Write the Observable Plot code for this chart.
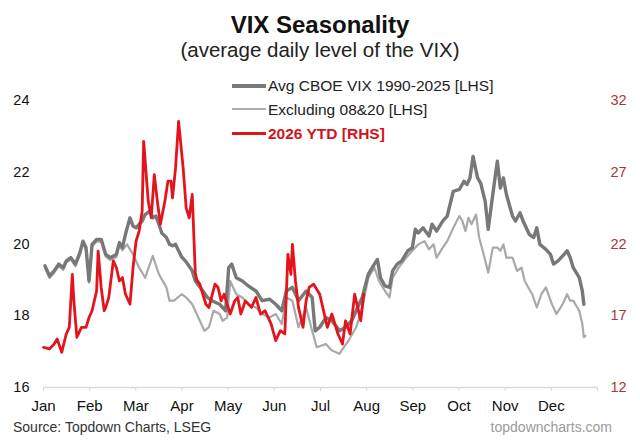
<!DOCTYPE html>
<html>
<head>
<meta charset="utf-8">
<script src="https://cdn.jsdelivr.net/npm/d3@7"></script>
<script src="https://cdn.jsdelivr.net/npm/@observablehq/plot@0.6"></script>
<style>
  html, body { margin: 0; padding: 0; background: #fff; }
  #wrap { position: relative; width: 640px; height: 446px; overflow: hidden; font-family: "Liberation Sans", Arial, sans-serif; background: #fff; }
  .t { position: absolute; white-space: nowrap; line-height: 1; }
  #chart { position: absolute; left: 0; top: 70px; }
  .leg { position: absolute; left: 232px; white-space: nowrap; line-height: 1; font-size: 15.5px; color: #222; }
  .leg span.sw { display: inline-block; width: 34px; vertical-align: middle; margin-right: 2px; position: relative; top: -1px; }
</style>
</head>
<body>
<div id="wrap">
  <div class="t" style="left:0;width:640px;text-align:center;top:13px;font-size:24px;font-weight:bold;color:#111;">VIX Seasonality</div>
  <div class="t" style="left:0;width:640px;text-align:center;top:39.5px;font-size:20.5px;color:#222;">(average daily level of the VIX)</div>
  <div id="chart"></div>
  <div class="leg" style="top:78px;"><span class="sw" style="height:4px;background:#7a7a7a;"></span>Avg CBOE VIX 1990-2025 [LHS]</div>
  <div class="leg" style="top:101.5px;"><span class="sw" style="height:2px;background:#ababab;"></span>Excluding 08&amp;20 [LHS]</div>
  <div class="leg" style="top:125.5px;color:#d0141c;font-weight:bold;"><span class="sw" style="height:3.5px;background:#e3141b;"></span>2026 YTD [RHS]</div>
  <div class="t" style="left:13px;top:420px;font-size:14px;color:#333;">Source: Topdown Charts, LSEG</div>
  <div class="t" style="right:28px;top:420px;font-size:14px;color:#9a9a9a;">topdowncharts.com</div>
</div>
<script>
const monthLabels = ["Jan","Feb","Mar","Apr","May","Jun","Jul","Aug","Sep","Oct","Nov","Dec"];
const lhsTicks = [16, 18, 20, 22, 24];
const rhsTicks = [12, 17, 22, 27, 32];

// Avg CBOE VIX 1990-2025 [LHS]: [day of year, level]
const avgCboe = [[1,19.39],[4,19.11],[7,19.25],[10,19.44],[13,19.34],[15,19.53],[18,19.62],[21,19.44],[24,19.76],[26,20.08],[28,19.90],[30,18.97],[32,19.99],[35,20.13],[38,20.13],[41,19.71],[44,19.62],[48,19.71],[50,20.04],[52,19.90],[54,20.27],[57,20.73],[59,20.50],[61,20.45],[63,20.55],[65,20.64],[67,20.82],[70,20.92],[72,20.73],[74,20.78],[76,20.55],[78,20.30],[81,20.18],[83,19.99],[85,19.95],[87,19.99],[89,19.81],[91,19.64],[94,19.50],[96,19.38],[98,19.25],[100,18.97],[105,18.69],[108,18.51],[111,18.42],[116,18.32],[120,18.14],[122,19.34],[124,19.44],[127,19.06],[131,18.97],[135,18.83],[140,18.69],[144,18.42],[149,18.46],[153,18.32],[157,18.14],[160,18.69],[164,18.79],[168,18.42],[173,18.69],[177,18.51],[179,17.58],[182,17.68],[186,17.95],[190,17.86],[195,17.58],[199,17.68],[203,17.86],[210,18.51],[214,19.16],[218,19.44],[220,19.57],[222,19.06],[225,18.83],[228,18.79],[230,19.25],[233,19.44],[236,19.53],[240,19.81],[243,19.90],[245,20.41],[247,20.31],[250,20.45],[254,20.22],[256,20.55],[259,20.36],[263,20.64],[266,20.78],[270,21.47],[274,21.52],[277,21.75],[279,21.66],[281,21.84],[283,22.44],[286,21.84],[288,21.70],[291,21.19],[293,20.41],[296,21.38],[299,22.31],[301,21.56],[303,21.84],[305,21.38],[309,20.78],[311,20.64],[314,20.87],[316,20.64],[320,20.27],[323,20.18],[325,20.45],[327,19.99],[331,19.85],[334,19.71],[336,19.44],[339,19.53],[343,19.71],[345,19.81],[347,19.62],[349,19.34],[353,19.06],[355,18.69],[356,18.32]];

// Excluding 08&20 [LHS]
const excl0820 = [[1,19.33],[4,19.05],[7,19.20],[10,19.38],[13,19.28],[15,19.48],[18,19.57],[21,19.38],[24,19.70],[26,20.02],[28,19.84],[30,18.92],[32,19.93],[35,20.07],[38,20.06],[41,19.65],[44,19.55],[48,19.64],[50,19.97],[52,19.82],[55,19.99],[59,19.71],[63,19.34],[67,19.06],[72,19.67],[76,19.16],[81,18.79],[83,18.42],[86,18.42],[91,18.60],[94,18.51],[98,18.32],[103,17.86],[106,17.58],[109,17.68],[112,18.14],[116,18.05],[118,17.86],[121,17.95],[123,18.97],[127,18.60],[131,18.51],[135,18.32],[140,18.23],[144,18.05],[149,17.95],[153,18.05],[157,17.77],[160,18.51],[164,18.42],[168,17.68],[173,18.23],[177,17.58],[180,17.12],[186,17.21],[190,17.03],[195,16.94],[197,17.07],[201,17.31],[206,17.68],[210,18.23],[214,19.06],[218,19.34],[221,18.97],[225,18.69],[228,18.51],[230,19.06],[234,19.34],[239,19.62],[243,19.81],[247,19.99],[251,20.08],[254,19.85],[257,19.99],[259,19.62],[263,19.90],[266,20.08],[270,20.45],[274,20.78],[276,20.64],[278,20.36],[280,20.73],[282,20.55],[285,20.82],[287,20.18],[290,19.71],[293,19.20],[296,19.90],[299,19.90],[301,19.81],[303,19.99],[305,19.62],[309,19.62],[312,19.25],[315,19.34],[317,18.97],[322,18.60],[325,18.23],[328,18.60],[331,18.79],[335,18.32],[338,18.05],[342,18.32],[345,18.60],[347,18.42],[349,18.42],[353,18.14],[355,17.77],[356,17.40],[357,17.44]];

// 2026 YTD [RHS]
const ytd2026 = [[0,14.80],[4,14.69],[7,15.03],[9,15.38],[12,14.45],[15,15.73],[17,16.19],[19,19.89],[20,18.04],[22,15.50],[25,16.19],[28,16.19],[30,16.88],[32,17.35],[35,18.74],[36,21.51],[38,18.97],[40,17.35],[41,17.58],[43,18.27],[46,20.82],[48,20.36],[50,19.43],[52,19.66],[54,18.50],[57,17.81],[59,20.36],[61,22.21],[63,22.90],[65,24.29],[66,29.15],[69,24.99],[71,23.83],[73,26.84],[75,24.99],[77,23.37],[80,24.99],[82,26.38],[84,26.38],[85,25.22],[87,27.30],[89,30.54],[92,27.30],[94,24.52],[96,23.83],[98,25.45],[100,20.00],[101,19.50],[103,19.20],[105,18.50],[107,17.80],[109,17.58],[113,19.20],[115,18.97],[117,18.04],[119,18.50],[121,17.81],[123,17.12],[126,18.04],[128,18.27],[130,17.12],[133,18.04],[137,17.58],[140,18.27],[143,17.12],[146,17.35],[150,16.42],[153,15.26],[156,15.96],[159,15.73],[161,21.28],[163,19.89],[164,21.98],[166,19.43],[168,17.58],[171,16.19],[173,18.04],[175,18.97],[178,19.20],[182,18.50],[184,17.58],[187,16.19],[190,17.12],[194,15.73],[197,15.03],[199,16.65],[202,15.73],[205,18.50],[207,17.58],[209,16.65],[211,18.50]];

// RHS <-> LHS mapping (12..32 on the right spans 16..24 on the left)
const toLeft = r => lhsTicks[0] + (r - rhsTicks[0]) * (lhsTicks[4] - lhsTicks[0]) / (rhsTicks[4] - rhsTicks[0]);
const toRight = l => rhsTicks[0] + (l - lhsTicks[0]) * (rhsTicks[4] - rhsTicks[0]) / (lhsTicks[4] - lhsTicks[0]);

const yearDays = 365;
const tickPos = monthLabels.map((_, i) => i * yearDays / 12).concat([yearDays]);
const font = '"Liberation Sans", Arial, sans-serif';

const chart = Plot.plot({
  width: 640,
  height: 350,
  marginTop: 30,
  marginBottom: 33,
  marginLeft: 43,
  marginRight: 43,
  x: {domain: [0, yearDays], axis: null},
  y: {domain: [lhsTicks[0], lhsTicks[4]], axis: null},
  style: {fontFamily: font, background: "white", color: "#111", overflow: "visible"},
  marks: [
    Plot.ruleY([lhsTicks[0]], {stroke: "#d9d9d9", strokeWidth: 1.5}),
    Plot.axisX({
      ticks: tickPos,
      tickFormat: d => monthLabels[Math.round(d / (yearDays / 12))] ?? "",
      tickSize: 4, tickPadding: 9, stroke: "#d9d9d9", fill: "#111", fontSize: 15
    }),
    Plot.axisY({anchor: "left", ticks: lhsTicks, tickSize: 0, tickPadding: 14, fontSize: 14.5, fill: "#111"}),
    Plot.axisY({
      anchor: "right", ticks: rhsTicks.map(toLeft), tickFormat: d => String(Math.round(toRight(d))),
      tickSize: 0, tickPadding: 13, fontSize: 14.5, fill: "#a8353a"
    }),
    Plot.line(excl0820, {x: d => d[0], y: d => d[1], stroke: "#a9a9a9", strokeWidth: 2.2, strokeLinejoin: "round"}),
    Plot.line(avgCboe, {x: d => d[0], y: d => d[1], stroke: "#787878", strokeWidth: 3.4, strokeLinejoin: "round"}),
    Plot.line(ytd2026, {x: d => d[0], y: d => toLeft(d[1]), stroke: "#e3141b", strokeWidth: 2.8, strokeLinejoin: "round"})
  ]
});
document.getElementById("chart").appendChild(chart);
</script>
</body>
</html>
